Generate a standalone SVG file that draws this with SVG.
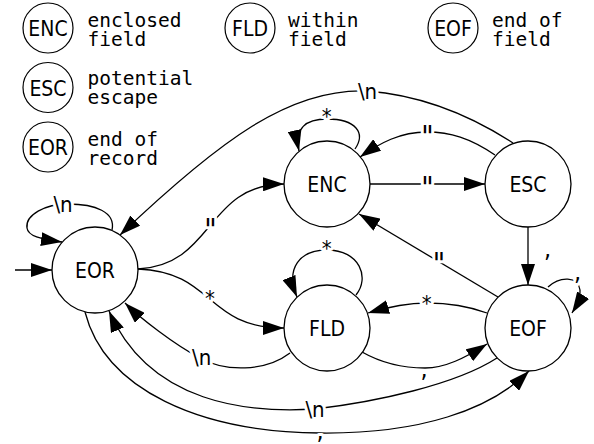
<svg xmlns="http://www.w3.org/2000/svg" width="594" height="444" viewBox="0 0 594 444">
<defs>
<style>
.node circle{fill:#fff;stroke:#000;stroke-width:1.3}
.lg circle{fill:#fff;stroke:#000;stroke-width:1.2}
.nt{font-family:"DejaVu Sans Condensed","DejaVu Sans",sans-serif;font-stretch:condensed;font-size:21px;text-anchor:middle;fill:#000}
.lt{font-family:"DejaVu Sans Mono",monospace;font-size:19.5px;fill:#000}
.e path{fill:none;stroke:#000;stroke-width:1.3;marker-end:url(#ah)}
.el{font-family:"DejaVu Sans Condensed","DejaVu Sans",sans-serif;font-stretch:condensed;font-size:22px;text-anchor:middle;fill:#000;stroke:#fff;stroke-width:6;stroke-linejoin:round;paint-order:stroke}
.q{font-size:30px}
.c{font-size:25px}
</style>
<marker id="ah" markerUnits="userSpaceOnUse" markerWidth="22" markerHeight="14" refX="21" refY="7" orient="auto">
<path d="M0,0 L21,7 L0,14 z" fill="#000"/>
</marker>
</defs>
<rect width="594" height="444" fill="#fff"/>

<g id="legend">
<g id="leg-enc" class="lg"><circle cx="48" cy="28" r="25"/><text class="nt" x="48" y="36">ENC</text><text class="lt" x="87.5" y="27">enclosed</text><text class="lt" x="87.5" y="46">field</text></g>
<g id="leg-fld" class="lg"><circle cx="250" cy="28" r="25"/><text class="nt" x="250" y="36">FLD</text><text class="lt" x="288" y="27">within</text><text class="lt" x="288" y="46">field</text></g>
<g id="leg-eof" class="lg"><circle cx="453" cy="28" r="25"/><text class="nt" x="453" y="36">EOF</text><text class="lt" x="492" y="27">end of</text><text class="lt" x="492" y="46">field</text></g>
<g id="leg-esc" class="lg"><circle cx="48" cy="87.5" r="25"/><text class="nt" x="48" y="95.5">ESC</text><text class="lt" x="87.5" y="85">potential</text><text class="lt" x="87.5" y="104">escape</text></g>
<g id="leg-eor" class="lg"><circle cx="48" cy="147" r="25"/><text class="nt" x="48" y="155">EOR</text><text class="lt" x="87.5" y="146">end of</text><text class="lt" x="87.5" y="165">record</text></g>
</g>

<g id="edges" class="e">
<path d="M15,270 L52,270"/>
<path d="M112,230 C116,212 95,204 68,204 C45,204 25,215 27,228 C28,236 40,239 62,242"/>
<path d="M138,269 C215,265 205,185 284,184"/>
<path d="M138,269 C215,272 205,328 284,328"/>
<path d="M290,353 C265,372 225,372 200,358 C175,345 140,318 125,303"/>
<path d="M497,358 C455,385 375,402 315,409 C250,413 150,405 109,311"/>
<path d="M85,312 C105,390 200,432 320,433 C420,434 490,410 529,371"/>
<path d="M355,149 C366,133 356,119 327,119 C306,119 294,128 299,151"/>
<path d="M495,155 C470,138 450,132 427,132 C400,132 380,143 360,157"/>
<path d="M513,143 C470,115 420,95 367,91 C290,88 220,140 120,235"/>
<path d="M370,184 L485,184"/>
<path d="M528,227 L528,285"/>
<path d="M498,297 L359,214"/>
<path d="M356,295 C370,278 360,250 327,250 C300,250 285,268 297,297"/>
<path d="M487,313 C465,305 445,303 427,303 C405,303 388,307 368,313"/>
<path d="M362,352 C385,365 405,368 425,368 C445,368 465,358 487,344"/>
<path d="M548,287 C560,276 578,276 580,290 C581,297 577,305 572,313"/>
<text class="el" x="63" y="212">\n</text>
<text class="el q" x="210.5" y="240">"</text>
<text class="el" x="210" y="306">*</text>
<text class="el" x="201.7" y="365">\n</text>
<text class="el" x="315" y="416.7">\n</text>
<text class="el c" x="320" y="438.5">,</text>
<text class="el" x="326.7" y="123.5">*</text>
<text class="el q" x="427.5" y="146.5">"</text>
<text class="el" x="367.5" y="99">\n</text>
<text class="el q" x="427.5" y="197.5">"</text>
<text class="el c" x="547.5" y="257">,</text>
<text class="el q" x="439" y="274">"</text>
<text class="el" x="326.7" y="256">*</text>
<text class="el" x="426.7" y="311">*</text>
<text class="el c" x="424" y="376.5">,</text>
<text class="el c" x="577.5" y="279.5">,</text>
</g>

<g id="EOR" class="node"><circle cx="95" cy="270" r="43"/><text class="nt" x="95" y="277.5">EOR</text></g>
<g id="ENC" class="node"><circle cx="327" cy="184" r="43"/><text class="nt" x="327" y="191.5">ENC</text></g>
<g id="FLD" class="node"><circle cx="327" cy="328" r="43"/><text class="nt" x="327" y="335.5">FLD</text></g>
<g id="ESC" class="node"><circle cx="528" cy="184" r="43"/><text class="nt" x="528" y="191.5">ESC</text></g>
<g id="EOF" class="node"><circle cx="528" cy="328" r="43"/><text class="nt" x="528" y="335.5">EOF</text></g>
</svg>
